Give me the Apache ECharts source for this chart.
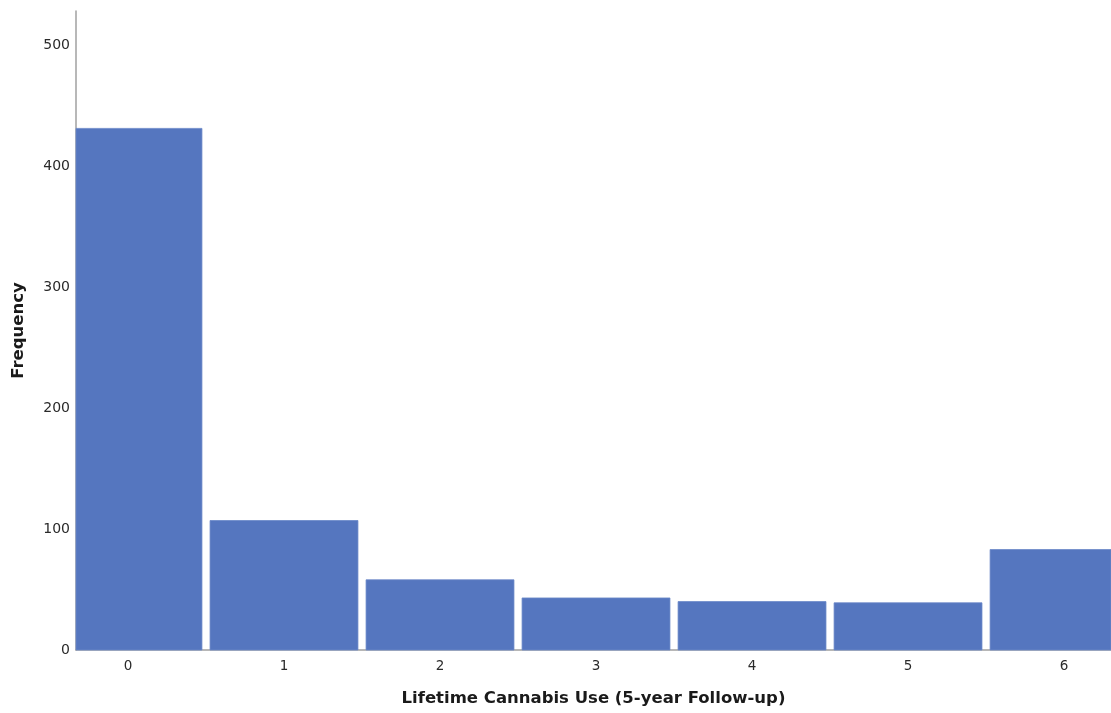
<!DOCTYPE html>
<html>
<head>
<meta charset="utf-8">
<script src="https://cdn.jsdelivr.net/npm/echarts@6/dist/echarts.min.js"></script>
<style>
  html, body { margin: 0; padding: 0; background: #ffffff; }
  #chart { width: 1111px; height: 713px; }
</style>
</head>
<body>
<div id="chart"></div>
<script>
// Lifetime cannabis use scores at the 5-year follow-up
const categories = [0, 1, 2, 3, 4, 5, 6];
const frequencies = [431, 107, 58, 43, 40, 39, 83];
const yTicks = [0, 100, 200, 300, 400, 500];

const FONT = '"DejaVu Sans", "Noto Sans", sans-serif';
const BAR_FRACTION = 0.948; // share of one unit of the score axis taken by each bar

const chart = echarts.init(document.getElementById('chart'), null, { renderer: 'canvas' });

// Bars drawn in data units, clipped to the plotting area so the outer bars are cut at the edges
function renderBar(params, api) {
  const x = api.value(0);
  const y = api.value(1);
  const topLeft = api.coord([x - BAR_FRACTION / 2, y]);
  const bottomRight = api.coord([x + BAR_FRACTION / 2, 0]);
  const rect = echarts.graphic.clipRectByRect(
    {
      x: topLeft[0],
      y: topLeft[1],
      width: bottomRight[0] - topLeft[0],
      height: bottomRight[1] - topLeft[1]
    },
    {
      x: params.coordSys.x,
      y: params.coordSys.y,
      width: params.coordSys.width,
      height: params.coordSys.height
    }
  );
  return rect && {
    type: 'rect',
    shape: rect,
    style: { fill: '#5576bf', stroke: '#6a88c8', lineWidth: 0.8 }
  };
}

chart.setOption({
  animation: false,
  backgroundColor: '#ffffff',
  grid: {
    left: 76, right: 0, top: 11, bottom: 63,
    containLabel: false,
    outerBoundsMode: 'none'
  },
  xAxis: {
    type: 'value',
    min: -0.3333,
    max: 6.301,
    name: 'Lifetime Cannabis Use (5-year Follow-up)',
    nameLocation: 'middle',
    nameGap: 40,
    nameTextStyle: { fontFamily: FONT, fontWeight: 'bold', fontSize: 16.5, color: '#1a1a1a' },
    splitLine: { show: false },
    axisTick: { show: false },
    axisLine: { show: true, lineStyle: { color: '#a0a0a0', width: 1.5 } },
    axisLabel: {
      customValues: categories,
      fontFamily: FONT, fontSize: 13.5, color: '#2a2a2a', margin: 9
    }
  },
  yAxis: {
    type: 'value',
    min: 0,
    max: 528,
    interval: 100,
    name: 'Frequency',
    nameLocation: 'middle',
    nameRotate: 90,
    nameGap: 49,
    nameTextStyle: { fontFamily: FONT, fontWeight: 'bold', fontSize: 16.5, color: '#1a1a1a' },
    splitLine: { show: false },
    axisTick: { show: false },
    axisLine: { show: true, onZero: false, lineStyle: { color: '#a0a0a0', width: 1.5 } },
    axisLabel: {
      customValues: yTicks,
      fontFamily: FONT, fontSize: 14, color: '#2a2a2a', margin: 6
    }
  },
  series: [{
    type: 'custom',
    renderItem: renderBar,
    encode: { x: 0, y: 1 },
    data: categories.map((c, i) => [c, frequencies[i]]),
    z: 1
  }]
});
</script>
</body>
</html>
